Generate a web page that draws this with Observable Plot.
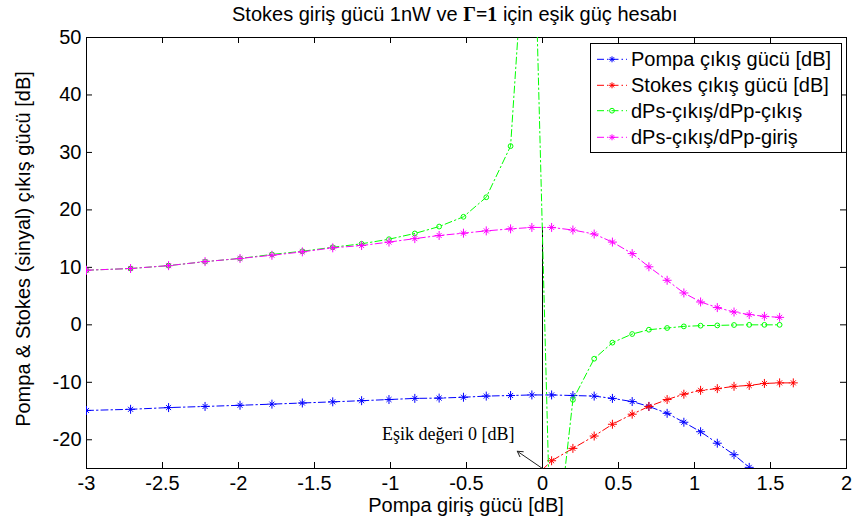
<!DOCTYPE html>
<html>
<head>
<meta charset="utf-8">
<script src="https://cdn.jsdelivr.net/npm/d3@7"></script>
<script src="https://cdn.jsdelivr.net/npm/@observablehq/plot@0.6"></script>
<style>
  html, body { margin: 0; padding: 0; background: white; }
  #chart svg { display: block; }
</style>
</head>
<body>
<div id="chart"></div>
<script>
// ---- Data ----
const xIn = [-3.0, -2.71, -2.46, -2.22, -1.99, -1.78, -1.58, -1.38, -1.19, -1.01, -0.84, -0.68, -0.52, -0.37, -0.21, -0.07, 0.06, 0.20, 0.34, 0.46, 0.59, 0.70, 0.82, 0.93, 1.04, 1.15, 1.26, 1.36, 1.46, 1.56, 1.65];

const pompaOut = [-14.9, -14.7, -14.4, -14.2, -14.0, -13.8, -13.6, -13.4, -13.2, -13.0, -12.8, -12.75, -12.6, -12.4, -12.3, -12.2, -12.2, -12.3, -12.4, -12.8, -13.35, -14.2, -15.4, -16.95, -18.6, -20.6, -22.6, -24.8];
const stokesStart = 15; // stokes series begins at xIn[15]
const stokesOut = [-27, -23.65, -21.5, -19.35, -17.3, -15.55, -14.2, -13.0, -12.07, -11.4, -11.1, -10.7, -10.55, -10.2, -10.1, -10.1];
const dPsOut_dPpOut = [9.5, 9.8, 10.3, 11.0, 11.55, 12.25, 12.8, 13.5, 14.1, 14.9, 15.9, 17.1, 18.8, 22.2, 31.1, 87, -46, -13.05, -5.9, -3.1, -1.6, -0.85, -0.55, -0.27, -0.15, -0.1, -0.03, 0, 0, 0];
const dPsOut_dPpIn = [9.5, 9.8, 10.3, 11.0, 11.55, 12.1, 12.7, 13.4, 13.8, 14.4, 15.0, 15.55, 15.95, 16.35, 16.7, 16.95, 16.95, 16.5, 15.8, 14.4, 12.4, 10.1, 7.75, 5.55, 3.98, 3.0, 2.23, 1.78, 1.48, 1.3];

const seriesNames = ["Pompa çıkış gücü [dB]", "Stokes çıkış gücü [dB]", "dPs-çıkış/dPp-çıkış", "dPs-çıkış/dPp-giriş"];
const seriesColors = ["#0000ff", "#ff0000", "#00ff00", "#ff00ff"];

const xTicks = [-3, -2.5, -2, -1.5, -1, -0.5, 0, 0.5, 1, 1.5, 2];
const yTicks = [-20, -10, 0, 10, 20, 30, 40, 50];

const thresholdX = [0];
const thresholdTop = [16.95];
const annotationText = ["Eşik değeri 0 [dB]"];
const annotationPos = [-0.62, -19.0];
const arrowFrom = [0, -25];
const arrowTo = [-0.166, -22.0];

const titleParts = ["Stokes giriş gücü 1nW ve ", "Γ=1", " için eşik güç hesabı"];
const xLabel = "Pompa giriş gücü [dB]";
const yLabel = "Pompa & Stokes (sinyal) çıkış gücü [dB]";

// ---- Build tables ----
const blue = pompaOut.map((v, i) => ({x: xIn[i], y: v}));
const red = stokesOut.map((v, i) => ({x: xIn[i + stokesStart], y: v}));
const green = dPsOut_dPpOut.map((v, i) => ({x: xIn[i], y: v}));
const magenta = dPsOut_dPpIn.map((v, i) => ({x: xIn[i], y: v}));

const W = 854, H = 525;
const mL = 86, mR = 8, mT = 37, mB = 57;
const plotW = W - mL - mR, plotH = H - mT - mB;
const dash = "7,3,1.5,3";
const FONT = "'Liberation Sans', Arial, sans-serif";

function seriesMarks(data, color, marker) {
  const marks = [Plot.line(data, {x: "x", y: "y", stroke: color, strokeWidth: 1, strokeDasharray: dash, clip: true})];
  if (marker === "star") {
    marks.push(Plot.dot(data, {x: "x", y: "y", symbol: "plus", r: 3.0, stroke: color, strokeWidth: 1, clip: true}));
    marks.push(Plot.dot(data, {x: "x", y: "y", symbol: "times", r: 2.4, stroke: color, strokeWidth: 1, clip: true}));
  } else {
    marks.push(Plot.dot(data, {x: "x", y: "y", symbol: "circle", r: 2.4, stroke: color, fill: "none", strokeWidth: 1, clip: true}));
  }
  return marks;
}

const chart = Plot.plot({
  width: W, height: H,
  marginLeft: mL, marginRight: mR, marginTop: mT, marginBottom: mB,
  style: {fontFamily: FONT, fontSize: "20px", background: "white", color: "black"},
  x: {domain: [-3, 2]},
  y: {domain: [-25, 50]},
  marks: [
    Plot.frame({stroke: "black", strokeWidth: 1}),
    Plot.axisX(xTicks, {anchor: "bottom", tickSize: 0, tickPadding: 7, tickFormat: d => String(d), label: null, fontSize: 20}),
    Plot.axisY(yTicks, {anchor: "left", tickSize: 0, tickPadding: 5, tickFormat: d => String(d), label: null, fontSize: 20}),
    Plot.tickX(xTicks, {x: d => d, insetTop: plotH - 6, stroke: "black"}),
    Plot.tickX(xTicks, {x: d => d, insetBottom: plotH - 6, stroke: "black"}),
    Plot.tickY(yTicks, {y: d => d, insetRight: plotW - 6, stroke: "black"}),
    Plot.tickY(yTicks, {y: d => d, insetLeft: plotW - 6, stroke: "black"}),
    Plot.ruleX(thresholdX.map((x, i) => ({x, y1: -25, y2: thresholdTop[i]})), {x: "x", y1: "y1", y2: "y2", stroke: "black", strokeWidth: 1}),
    ...seriesMarks(blue, seriesColors[0], "star"),
    ...seriesMarks(red, seriesColors[1], "star"),
    ...seriesMarks(green, seriesColors[2], "circle"),
    ...seriesMarks(magenta, seriesColors[3], "star"),
    Plot.arrow([{x1: arrowFrom[0], y1: arrowFrom[1], x2: arrowTo[0], y2: arrowTo[1]}], {x1: "x1", y1: "y1", x2: "x2", y2: "y2", stroke: "#222", strokeWidth: 1, headLength: 9, bend: 0}),
    Plot.text(annotationText.map(t => ({t, x: annotationPos[0], y: annotationPos[1]})), {x: "x", y: "y", text: "t", fontFamily: "'Liberation Serif', 'Times New Roman', serif", fontSize: 18, fill: "black"})
  ]
});

document.getElementById("chart").appendChild(chart);

// ---- Title, axis labels, legend ----
const svg = d3.select(chart);
const title = svg.append("text").attr("x", 232).attr("y", 21).attr("text-anchor", "start")
  .attr("font-family", FONT).attr("font-size", 20).attr("fill", "black");
title.append("tspan").text(titleParts[0]);
title.append("tspan").attr("font-family", "'Liberation Serif', 'Times New Roman', serif").attr("font-weight", "bold").text(titleParts[1]);
title.append("tspan").text(titleParts[2]);

svg.append("text").attr("x", mL + plotW / 2).attr("y", 512).attr("text-anchor", "middle")
  .attr("font-family", FONT).attr("font-size", 20).attr("fill", "black").text(xLabel);

svg.append("text").attr("transform", "translate(30,249) rotate(-90)").attr("text-anchor", "middle")
  .attr("font-family", FONT).attr("font-size", 20).attr("fill", "black").text(yLabel);

const lg = svg.append("g").attr("text-anchor", "start");
lg.append("rect").attr("x", 590.5).attr("y", 43.5).attr("width", 251).attr("height", 109)
  .attr("fill", "white").attr("stroke", "black").attr("stroke-width", 1);
const rowY = [59.3, 85.3, 110.7, 137.3];
seriesNames.forEach((name, i) => {
  const g = lg.append("g");
  const c = seriesColors[i];
  g.append("line").attr("x1", 597).attr("x2", 627).attr("y1", rowY[i]).attr("y2", rowY[i])
    .attr("stroke", c).attr("stroke-width", 1).attr("stroke-dasharray", dash);
  const cx = 612, cy = rowY[i];
  if (i === 2) {
    g.append("circle").attr("cx", cx).attr("cy", cy).attr("r", 2.4).attr("fill", "none").attr("stroke", c);
  } else {
    g.append("path").attr("d", `M${cx-3},${cy}H${cx+3}M${cx},${cy-3}V${cy+3}M${cx-2.1},${cy-2.1}L${cx+2.1},${cy+2.1}M${cx-2.1},${cy+2.1}L${cx+2.1},${cy-2.1}`)
      .attr("stroke", c).attr("stroke-width", 1);
  }
  g.append("text").attr("x", 631).attr("y", rowY[i] + 7).attr("text-anchor", "start")
    .attr("font-family", FONT).attr("font-size", 20).attr("fill", "black").text(name);
});
</script>
</body>
</html>
